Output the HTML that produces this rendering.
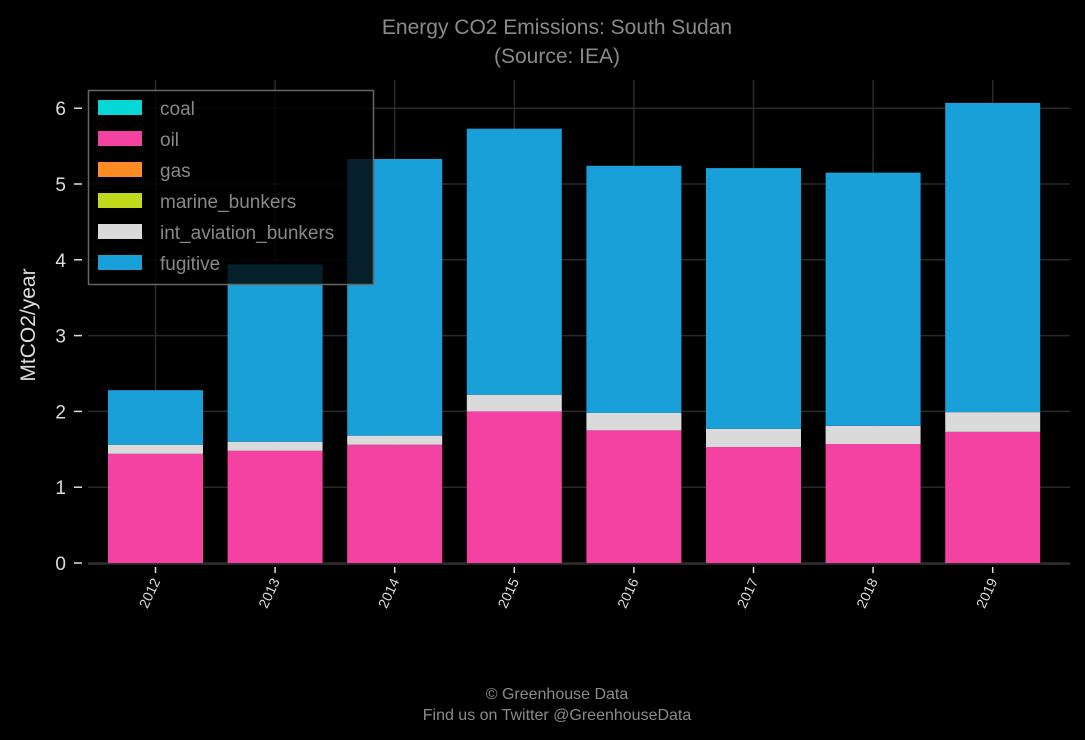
<!DOCTYPE html>
<html><head><meta charset="utf-8"><style>
html,body{margin:0;padding:0;background:#000;}
svg{display:block;font-family:"Liberation Sans","DejaVu Sans",sans-serif;}
</style></head><body>
<svg id="chart" width="1085" height="740" viewBox="0 0 1085 740">
<rect width="1085" height="740" fill="#000"/>
<text x="557" y="34" text-anchor="middle" fill="#8a8a8a" font-size="21">Energy CO2 Emissions: South Sudan</text>
<text x="557" y="63" text-anchor="middle" fill="#8a8a8a" font-size="21">(Source: IEA)</text>
<g id="grid"></g>
<g id="bars"></g>
<g id="axes"></g>
<text transform="translate(35,325) rotate(-90)" text-anchor="middle" fill="#ddd" font-size="21">MtCO2/year</text>
<g>
<rect x="88.5" y="90.5" width="285" height="194" fill="rgba(0,0,0,0.8)" stroke="#666" stroke-width="1.5"/>
<g id="legend-items"></g>
</g>
<text x="557" y="699" text-anchor="middle" fill="#8a8a8a" font-size="16">© Greenhouse Data</text>
<text x="557" y="720" text-anchor="middle" fill="#8a8a8a" font-size="16">Find us on Twitter @GreenhouseData</text>
</svg>
<script>
const years = ["2012","2013","2014","2015","2016","2017","2018","2019"];
const oil = [1.44,1.48,1.56,2.00,1.75,1.53,1.57,1.73];
const aviation = [0.12,0.12,0.12,0.22,0.23,0.24,0.24,0.26];
const fugitive = [0.72,2.34,3.65,3.51,3.26,3.44,3.34,4.08];
const yTicks = [0,1,2,3,4,5,6];
const legendLabels = ["coal","oil","gas","marine_bunkers","int_aviation_bunkers","fugitive"];
const legendColors = ["#06d8d8","#f442a2","#fd8a22","#c1d91b","#dadada","#1aa0d8"];

const NS="http://www.w3.org/2000/svg";
const x0=88,x1=1070,y0=563,yScale=75.8,step=119.6,bw=95,firstC=155.5;
const Y=v=>y0-v*yScale;
const X=i=>firstC+i*step;
function mk(tag,attrs,parent){const e=document.createElementNS(NS,tag);for(const k in attrs)e.setAttribute(k,attrs[k]);parent.appendChild(e);return e;}
const grid=document.getElementById('grid'),bars=document.getElementById('bars'),axes=document.getElementById('axes'),leg=document.getElementById('legend-items');
yTicks.forEach(t=>{
 const l=mk('line',{x1:x0,x2:x1,y1:Y(t),y2:Y(t),stroke:'#2a2a2a','stroke-width':1.5},grid);
 
 
 const tk=mk('line',{x1:x0-14,x2:x0-6,y1:Y(t),y2:Y(t),stroke:'#ddd','stroke-width':1.5},axes);
 
 
 const tx=mk('text',{x:x0-22,y:Y(t)+7,'text-anchor':'end',fill:'#ddd','font-size':19},axes);
 tx.textContent=t;
 
 
});
years.forEach((yr,i)=>{
 const l=mk('line',{x1:X(i),x2:X(i),y1:80,y2:y0,stroke:'#2a2a2a','stroke-width':1.5},grid);
 
 
 const segs=[[oil[i],'#f442a2','oil'],[aviation[i],'#dadada','aviation'],[fugitive[i],'#1aa0d8','fugitive']];
 let base=0;
 segs.forEach(s=>{
  const r=mk('rect',{x:X(i)-bw/2,y:Y(base+s[0]),width:bw,height:s[0]*yScale,fill:s[1]},bars);
  
  
  base+=s[0];
 });
 const tk=mk('line',{x1:X(i),x2:X(i),y1:y0+4,y2:y0+10,stroke:'#ddd','stroke-width':1.5},axes);
 
 
 const tx=mk('text',{transform:`translate(${X(i)+5},${y0+18}) rotate(-65)`,'text-anchor':'end',fill:'#ddd','font-size':14},axes);
 tx.textContent=yr;
 
 
});
const ax=mk('line',{x1:x0,x2:x1,y1:y0+1,y2:y0+1,stroke:'#333','stroke-width':1.5},axes);


legendLabels.forEach((lab,i)=>{
 const yy=100+i*31;
 const r=mk('rect',{x:98,y:yy,width:44,height:15,fill:legendColors[i]},leg);
 
 
 const t=mk('text',{x:160,y:yy+15,fill:'#888','font-size':19},leg);
 t.textContent=lab;
 
 
});
</script>
</body></html>
